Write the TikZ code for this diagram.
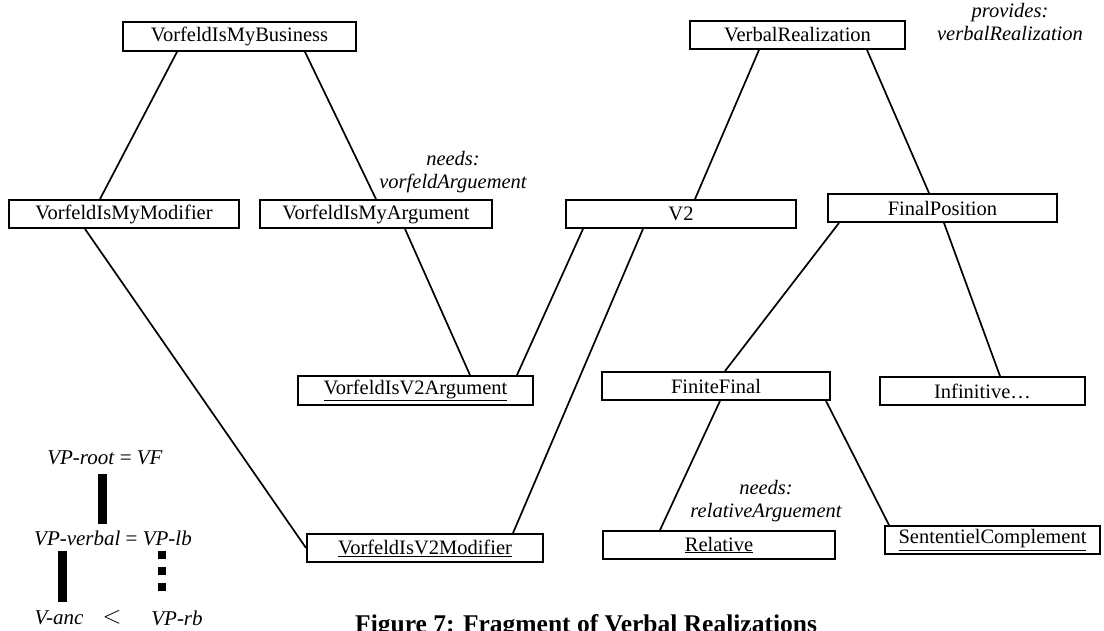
\documentclass[tikz,border=0pt]{standalone}
\usepackage{fontspec}
\setmainfont{Liberation Serif}
\usepackage{tikz}

\begin{document}
\begin{tikzpicture}[x=1pt, y=-1pt, every edge/.style={draw=black, line width=1.7pt},
		box/.style={rectangle, draw=black, line width=1.9pt, inner sep=0pt, minimum height=28pt, font=\fontsize{20.5}{22}\selectfont},
		note/.style={draw=none, align=center, inner sep=0pt, font=\fontsize{20.5}{22.5}\selectfont\itshape},
		legend/.style={draw=none, inner sep=0pt, font=\fontsize{21}{23}\selectfont},
		bar/.style={draw=black, line width=9pt}]
				\useasboundingbox (0,0) rectangle (1104,630);
				\clip (0,0) rectangle (1104,630);
				
				\node[box, minimum width=233pt, minimum height=29pt] (vmb) at (239.5,36.5){VorfeldIsMyBusiness};
				\node[box, minimum width=215pt] (vrz) at (797.5,35){VerbalRealization};
				\node[box, minimum width=230pt] (vmm) at (124,214){VorfeldIsMyModifier};
				\node[box, minimum width=232pt] (vma) at (376,214){VorfeldIsMyArgument};
				\node[box, minimum width=230pt] (vtwo) at (681,214){V2};
				\node[box, minimum width=229pt] (fpos) at (942.5,208){FinalPosition};
				\node[box, minimum width=235pt, minimum height=29pt] (v2arg) at (415.5,390.5){\underline{VorfeldIsV2Argument}};
				\node[box, minimum width=228pt] (ffin) at (716,386){FiniteFinal};
				\node[box, minimum width=205pt] (infin) at (982.5,391){Infinitive\dots};
				\node[box, minimum width=236pt] (v2mod) at (425,548){\underline{VorfeldIsV2Modifier}};
				\node[box, minimum width=232pt] (rel) at (719,545){\underline{Relative}};
				\node[box, minimum width=215pt] (scomp) at (992.5,540){\underline{SententielComplement}};
				
				\node[note] (nvma) at (453,172){needs:\\vorfeldArguement};
				\node[note] (pvrz) at (1010,22){provides:\\verbalRealization};
				\node[note] (nrel) at (766,501){needs:\\relativeArguement};
				
				\path ([xshift=-62.5pt]vmb.south) edge ([xshift=-24pt]vmm.north);
				\path ([xshift=65.5pt]vmb.south) edge (vma.north);
				\path ([xshift=-39pt]vmm.south) edge (v2mod.west);
				\path ([xshift=29pt]vma.south) edge ([xshift=54.5pt]v2arg.north);
				\path ([xshift=-98pt]vtwo.south) edge ([xshift=101.5pt]v2arg.north);
				\path ([xshift=-38pt]vtwo.south) edge ([xshift=88pt]v2mod.north);
				\path ([xshift=-38.5pt]vrz.south) edge ([xshift=14pt]vtwo.north);
				\path ([xshift=69.5pt]vrz.south) edge ([xshift=-13.5pt]fpos.north);
				\path ([xshift=-103.5pt]fpos.south) edge ([xshift=9pt]ffin.north);
				\path ([xshift=1.5pt]fpos.south) edge ([xshift=17.5pt]infin.north);
				\path ([xshift=4pt]ffin.south) edge ([xshift=-59pt]rel.north);
				\path ([xshift=110pt]ffin.south) edge ([xshift=-103.5pt]scomp.north);
				
				% legend
				\node[legend] (vroot) at (105,458){\textit{VP-root} = \textit{VF}};
				\node[legend] (vverbal) at (113,538){\textit{VP-verbal} = \textit{VP-lb}};
				\node[legend] (vanc) at (59,618){\textit{V-anc}};
				\node[legend, font=\fontsize{34}{34}\selectfont] (lt) at (112,617){$<$};
				\node[legend] (vrb) at (177,618){\textit{VP-rb}};
				\path[bar, shorten <=9pt, shorten >=6pt] ([xshift=-3pt]vroot.south) -- ([xshift=-11pt]vverbal.north);
				\path[bar, shorten <=5pt, shorten >=9pt] ([xshift=-51pt]vverbal.south) -- ([xshift=3pt]vanc.north);
				\path[bar, line width=8pt, dash pattern=on 8pt off 8pt, shorten <=5pt, shorten >=15pt] ([xshift=49pt]vverbal.south) -- ([xshift=-15pt]vrb.north);
				
				\node[legend, anchor=base west, font=\fontsize{25.5}{28}\selectfont\bfseries] (cap) at (355,632){Figure 7: Fragment of Verbal Realizations};
				\end{tikzpicture}
\end{document}
